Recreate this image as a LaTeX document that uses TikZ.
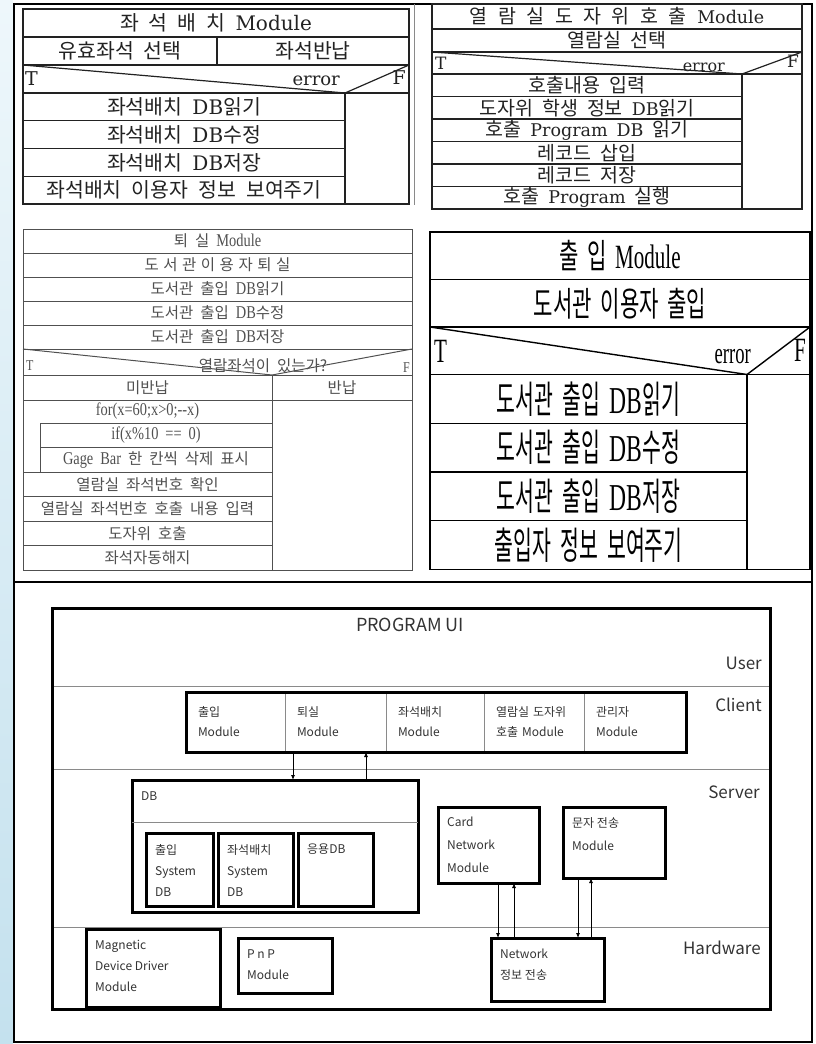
\documentclass[tikz,border=0pt]{standalone}
\usepackage{fontspec}
\setmainfont{Liberation Serif}
\newfontfamily\kor{Noto Sans CJK KR}
\newfontfamily\kortall[FakeStretch=0.62,WordSpace=1.8]{Noto Sans CJK KR}
\newfontfamily\kornarrow[FakeStretch=0.54,WordSpace=2]{Noto Sans CJK KR}
\newfontfamily\sertall[FakeStretch=0.62]{Liberation Serif}
\newfontfamily\sermid[FakeStretch=0.8]{Liberation Serif}
\newfontfamily\dser{DejaVu Serif}
\newfontfamily\uifont{Noto Sans CJK KR}
\usetikzlibrary{arrows.meta,positioning}
\newcommand{\enpt}{13}
\newcommand{\enfam}{\dser}
\newcommand{\en}[1]{{\fontsize{\enpt}{\enpt}\enfam#1}}
\newcommand{\entall}[1]{{\sertall#1}}
\definecolor{ink}{HTML}{222222}
\definecolor{grayink}{HTML}{505050}
\definecolor{rule}{HTML}{8A8A8A}
\definecolor{darkui}{HTML}{333333}
\definecolor{stripTop}{HTML}{EEF7FB}
\definecolor{stripBot}{HTML}{C4E1EE}
\tikzset{
  cell/.style={draw=ink, line width=1.2pt, inner sep=0pt, outer sep=0pt, anchor=north west, text=ink},
  sa/.style={cell, font=\fontsize{20.5}{23}\kor, execute at begin node={\spaceskip=10pt\relax\renewcommand{\enpt}{20}}},
  rc/.style={cell, font=\fontsize{19.5}{21}\kor, execute at begin node={\spaceskip=9pt\relax\renewcommand{\enpt}{17.5}}},
  rctitle/.style={cell, font=\fontsize{19.5}{21}\kor, execute at begin node={\spaceskip=10.5pt\relax\renewcommand{\enpt}{17.5}}},
  ex/.style={cell, draw=grayink, line width=1pt, text=grayink, font=\fontsize{15.5}{18}\kor, execute at begin node={\spaceskip=7pt\relax\renewcommand{\enpt}{18}\renewcommand{\enfam}{\sermid}}},
  io/.style={cell, draw=black, line width=1.4pt, text=black, font=\fontsize{34}{36}\kortall},
  iorow/.style={io, font=\fontsize{38}{40}\kornarrow},
  tf/.style={inner sep=0pt, text=ink},
  frame/.style={line width=2.6pt, draw=black},
  hair/.style={line width=0.8pt, draw=rule},
  layer/.style={line width=1pt, draw=rule},
  heavy/.style={draw=black, line width=3pt, inner sep=0pt, outer sep=0pt, anchor=north west},
  mod/.style={draw=rule, line width=1pt, inner sep=0pt, outer sep=0pt, anchor=north west, align=left, font=\fontsize{12}{20}\uifont, text=darkui},
  boxtext/.style={anchor=north west, align=left, inner xsep=9pt, inner ysep=11pt, font=\fontsize{12}{21}\uifont, text=darkui},
  tag/.style={font=\fontsize{17}{20}\uifont, text=darkui, anchor=east, inner sep=0pt},
  flow/.style={-{Latex[length=5pt,width=4pt]}, line width=0.8pt, draw=black}
}

\begin{document}
\begin{tikzpicture}[x=1pt, y=-1pt]
\useasboundingbox (0,0) rectangle (815,1044);
\shade[top color=stripTop, bottom color=stripBot] (0,0) rectangle (13,1044);
\draw[frame] (14,4) rectangle (812,1042);
\draw[frame] (14,582) -- (812,582);
\draw[hair] (414,4) -- (414,205);

% 좌석 배치 Module
\node[sa, minimum width=386pt, minimum height=28pt] (saTitle) at (23,9) {좌 석 배 치 \en{Module}};
\node[sa, minimum width=194pt, minimum height=28pt] (saPick) at (23,37) {유효좌석 선택};
\node[sa, minimum width=192pt, minimum height=28pt] (saBack) at (217,37) {좌석반납};
\node[sa, minimum width=386pt, minimum height=28pt] (saTest) at (23,65) {};
\node[sa, minimum width=322pt, minimum height=27.75pt] (saRead) at (23,93) {좌석배치 \en{DB}읽기};
\node[sa, minimum width=322pt, minimum height=27.75pt, below=0pt of saRead] (saEdit) {좌석배치 \en{DB}수정};
\node[sa, minimum width=322pt, minimum height=27.75pt, below=0pt of saEdit] (saSave) {좌석배치 \en{DB}저장};
\node[sa, minimum width=322pt, minimum height=27.75pt, below=0pt of saSave] (saShow) {좌석배치 이용자 정보 보여주기};
\node[sa, minimum width=64pt, minimum height=111pt] (saSide) at (345,93) {};
\draw[ink, line width=1.2pt] (saTest.north west) -- (saRead.north east) -- (saTest.north east);
\node[tf, font=\fontsize{19}{20}\dser, anchor=west] (saT) at (25,79) {T};
\node[tf, font=\fontsize{18}{20}\dser, anchor=east] (saErr) at (340,81) {error};
\node[tf, font=\fontsize{19}{20}\dser, anchor=east] (saF) at (406,78) {F};

% 열람실 도자위 호출 Module
\node[rctitle, minimum width=370pt, minimum height=25pt] (rcTitle) at (432,4) {열 람 실 도 자 위 호 출 \en{Module}};
\node[rc, minimum width=370pt, minimum height=23pt] (rcPick) at (432,29) {열람실 선택};
\node[rc, minimum width=370pt, minimum height=22pt] (rcTest) at (432,52) {};
\node[rc, minimum width=310pt, minimum height=22.5pt] (rcInput) at (432,74) {호출내용 입력};
\node[rc, minimum width=310pt, minimum height=22.5pt, below=0pt of rcInput] (rcStudent) {도자위 학생 정보 \en{DB}읽기};
\node[rc, minimum width=310pt, minimum height=22.5pt, below=0pt of rcStudent] (rcProg) {호출 \en{Program DB} 읽기};
\node[rc, minimum width=310pt, minimum height=22.5pt, below=0pt of rcProg] (rcInsert) {레코드 삽입};
\node[rc, minimum width=310pt, minimum height=22.5pt, below=0pt of rcInsert] (rcStore) {레코드 저장};
\node[rc, minimum width=310pt, minimum height=22.5pt, below=0pt of rcStore] (rcRun) {호출 \en{Program} 실행};
\node[rc, minimum width=60pt, minimum height=135pt] (rcSide) at (742,74) {};
\draw[ink, line width=1.2pt] (rcTest.north west) -- (rcInput.north east) -- (rcTest.north east);
\node[tf, font=\fontsize{17}{18}\dser, anchor=west] (rcT) at (435,63) {T};
\node[tf, font=\fontsize{16}{18}\dser, anchor=east] (rcErr) at (725,67) {error};
\node[tf, font=\fontsize{17}{18}\dser, anchor=east] (rcF) at (799,61) {F};

% 퇴실 Module
\node[ex, minimum width=389pt, minimum height=24pt] (exTitle) at (23,229) {퇴 실 \en{Module}};
\node[ex, minimum width=389pt, minimum height=24pt, below=0pt of exTitle] (exUser) {\spaceskip=4.5pt\relax 도 서 관 이 용 자 퇴 실};
\node[ex, minimum width=389pt, minimum height=24pt, below=0pt of exUser] (exRead) {도서관 출입 \en{DB}읽기};
\node[ex, minimum width=389pt, minimum height=24pt, below=0pt of exRead] (exEdit) {도서관 출입 \en{DB}수정};
\node[ex, minimum width=389pt, minimum height=24pt, below=0pt of exEdit] (exSave) {도서관 출입 \en{DB}저장};
\node[ex, minimum width=389pt, minimum height=26pt] (exTest) at (23,349) {};
\node[ex, minimum width=249pt, minimum height=25pt] (exNo) at (23,375) {미반납};
\node[ex, minimum width=140pt, minimum height=25pt] (exYes) at (272,375) {반납};
\node[ex, minimum width=249pt, minimum height=72pt] (exFor) at (23,400) {};
\node[ex, draw=none, anchor=center] (exForTxt) at (147.5,411.5) {\en{for(x=60;x>0;{-}{-}x)}};
\node[ex, minimum width=232pt, minimum height=24.5pt] (exIf) at (40,423) {\en{if(x\%10 == 0)}};
\node[ex, minimum width=232pt, minimum height=24.5pt, below=0pt of exIf] (exGage) {\en{Gage Bar} 한 칸씩 삭제 표시};
\node[ex, minimum width=249pt, minimum height=24.5pt] (exSeat) at (23,472) {열람실 좌석번호 확인};
\node[ex, minimum width=249pt, minimum height=24.5pt, below=0pt of exSeat] (exCallIn) {열람실 좌석번호 호출 내용 입력};
\node[ex, minimum width=249pt, minimum height=24.5pt, below=0pt of exCallIn] (exCall) {도자위 호출};
\node[ex, minimum width=249pt, minimum height=24.5pt, below=0pt of exCall] (exFree) {좌석자동해지};
\node[ex, minimum width=140pt, minimum height=170pt] (exSide) at (272,400) {};
\draw[grayink, line width=1pt] (exTest.north west) -- (exNo.north east) -- (exTest.north east);
\node[tf, text=grayink, font=\fontsize{15}{16}\sermid, anchor=west] (exT) at (26,366) {T};
\node[ex, draw=none, anchor=center] (exAsk) at (263,366) {열람좌석이 있는가?};
\node[tf, text=grayink, font=\fontsize{15}{16}\sermid, anchor=east] (exF) at (410,368) {F};

% 출입 Module
\node[io, minimum width=380pt, minimum height=47.5pt] (ioTitle) at (430,232) {출 입 \entall{Module}};
\node[io, minimum width=380pt, minimum height=47.5pt, below=0pt of ioTitle] (ioUser) {도서관 이용자 출입};
\node[io, minimum width=380pt, minimum height=47.5pt, below=0pt of ioUser] (ioTest) {};
\node[iorow, minimum width=317pt, minimum height=48.75pt] (ioRead) at (430,374.5) {도서관 출입 \entall{DB}읽기};
\node[iorow, minimum width=317pt, minimum height=48.75pt, below=0pt of ioRead] (ioEdit) {도서관 출입 \entall{DB}수정};
\node[iorow, minimum width=317pt, minimum height=48.75pt, below=0pt of ioEdit] (ioSave) {도서관 출입 \entall{DB}저장};
\node[iorow, minimum width=317pt, minimum height=48.75pt, below=0pt of ioSave] (ioShow) {출입자 정보 보여주기};
\node[io, minimum width=63pt, minimum height=195pt] (ioSide) at (747,374.5) {};
\draw[black, line width=1.4pt] (ioTest.north west) -- (ioRead.north east) -- (ioTest.north east);
\node[tf, text=black, font=\fontsize{34}{36}\sertall, anchor=west] (ioT) at (434,351) {T};
\node[tf, text=black, font=\fontsize{30}{32}\sertall, anchor=east] (ioErr) at (751,357) {error};
\node[tf, text=black, font=\fontsize{34}{36}\sertall, anchor=east] (ioF) at (806,350) {F};

% PROGRAM UI 계층 구조
\draw[layer] (52,686) -- (770,686);
\draw[layer] (52,769) -- (770,769);
\draw[layer] (52,927) -- (770,927);
\node[heavy, minimum width=718pt, minimum height=401pt] (ui) at (52,608) {};
\node[font=\fontsize{18}{20}\uifont, text=darkui, inner sep=0pt] (uiTitle) at (410,625) {PROGRAM UI};
\node[tag] (tUser) at (762,663) {User};
\node[tag] (tClient) at (762,705) {Client};
\node[tag] (tServer) at (760,792) {Server};
\node[tag] (tHw) at (761,948) {Hardware};

\node[mod, minimum width=99pt, minimum height=60pt, text width=91pt] (cIn) at (186,692) {\hspace*{8pt}출입\\\hspace*{8pt}Module};
\node[mod, minimum width=101pt, minimum height=60pt, text width=93pt] (cOut) at (285,692) {\hspace*{8pt}퇴실\\\hspace*{8pt}Module};
\node[mod, minimum width=98pt, minimum height=60pt, text width=90pt] (cSeat) at (386,692) {\hspace*{8pt}좌석배치\\\hspace*{8pt}Module};
\node[mod, minimum width=100pt, minimum height=60pt, text width=92pt] (cRoom) at (484,692) {\hspace*{8pt}열람실 도자위\\\hspace*{8pt}호출 Module};
\node[mod, minimum width=102pt, minimum height=60pt, text width=94pt] (cAdmin) at (584,692) {\hspace*{8pt}관리자\\\hspace*{8pt}Module};
\draw[black, line width=3pt] (cIn.north west) rectangle (cAdmin.south east);

\node[heavy, minimum width=286pt, minimum height=132pt, label={[boxtext]north west:DB}] (db) at (132,780) {};
\draw[layer] ([yshift=-42pt]db.north west) -- ([yshift=-42pt]db.north east);
\node[heavy, minimum width=67pt, minimum height=73pt, label={[boxtext]north west:출입\\System\\DB}] (dbIn) at (146,833) {};
\node[heavy, minimum width=75pt, minimum height=73pt, label={[boxtext]north west:좌석배치\\System\\DB}] (dbSeat) at (218,833) {};
\node[heavy, minimum width=75pt, minimum height=73pt, label={[boxtext]north west:응용DB}] (dbApp) at (298,833) {};

\node[heavy, minimum width=101pt, minimum height=76pt, label={[boxtext, inner ysep=10pt, font=\fontsize{12}{23}\uifont]north west:Card\\Network\\Module}] (card) at (438,807) {};
\node[heavy, minimum width=102pt, minimum height=71pt, label={[boxtext, inner ysep=10pt, font=\fontsize{12}{23}\uifont]north west:문자 전송\\Module}] (sms) at (563,807) {};
\node[heavy, minimum width=113pt, minimum height=63pt, label={[boxtext]north west:Network\\정보 전송}] (net) at (491,938) {};
\node[heavy, minimum width=134pt, minimum height=78pt, label={[boxtext]north west:Magnetic\\Device Driver\\Module}] (mag) at (86,929) {};
\node[heavy, minimum width=94pt, minimum height=55pt, label={[boxtext]north west:P n P\\Module}] (pnp) at (238,938) {};

\coordinate (dnA) at ([xshift=8pt]cOut.south west);
\coordinate (upA) at ([xshift=-20pt]cOut.south east);
\draw[flow] (dnA) -- (dnA |- db.north);
\draw[flow] (upA |- db.north) -- (upA);
\coordinate (dnB) at ([xshift=7pt]net.north west);
\coordinate (upB) at ([xshift=23pt]net.north west);
\draw[flow] (dnB |- card.south) -- (dnB);
\draw[flow] (upB) -- (upB |- card.south);
\coordinate (dnC) at ([xshift=15pt]sms.south west);
\coordinate (upC) at ([xshift=28pt]sms.south west);
\draw[flow] (dnC) -- (dnC |- net.north);
\draw[flow] (upC |- net.north) -- (upC);
\end{tikzpicture}
\end{document}
